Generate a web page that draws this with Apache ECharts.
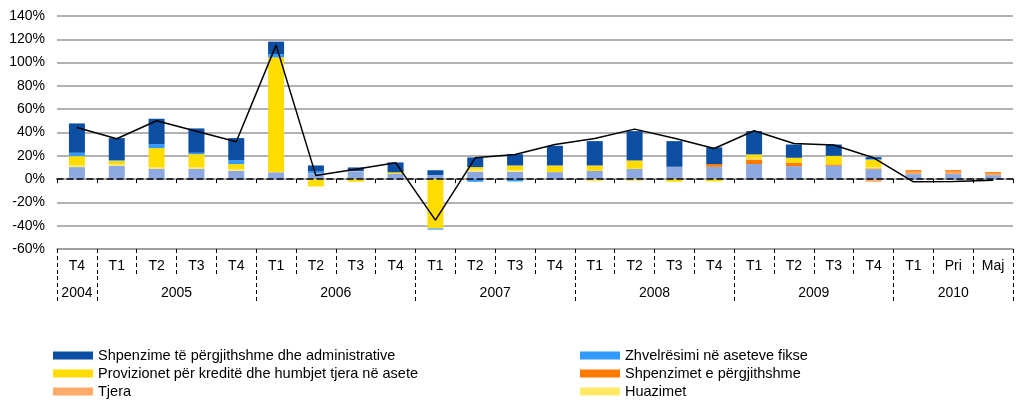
<!DOCTYPE html>
<html lang="sq">
<head>
    <meta charset="UTF-8">
    <title>Shpenzimet</title>
    <script src="https://cdn.jsdelivr.net/npm/echarts@6/dist/echarts.min.js"></script>
</head>
<body style="margin:0">
<div id="chart" style="width: 1016px; height: 402px;"></div>
<script>
    // kategorite (tremujoret) dhe vitet
    var categories = ['T4', 'T1', 'T2', 'T3', 'T4', 'T1', 'T2', 'T3', 'T4', 'T1', 'T2', 'T3', 'T4',
        'T1', 'T2', 'T3', 'T4', 'T1', 'T2', 'T3', 'T4', 'T1', 'Pri', 'Maj'];
    var years = ['2004', '2005', '2006', '2007', '2008', '2009', '2010'];
    var yearBounds = [0, 1, 5, 9, 13, 17, 21, 24];
    var yTicks = [-60, 140, 20];

    // vlerat (%)
    var personeli = [10.3, 11.4, 8.9, 8.9, 7.1, 5.8, 5.0, 6.5, 4.5, 3.5, 6.3, 6.3, 6.0, 7.1, 8.9, 10.6, 10.6, 12.9, 11.1, 11.4, 8.6, 4.3, 4.3, 3.4];
    var tjera = [0, 0, 0, 0, 0, 0, 0, 0, 0, 0, 0, 0, 0, 0, 0, 0, 0, 0, 0, 0, -2.3, 2.0, 2.0, 1.2];
    var shpenzimet = [0, 0, 0, 0, 0, 0, 0, 0, 0, 0, 0, 0, 0, 0, 0, 0, 2.3, 4.0, 2.9, 1.2, 0.6, 1.4, 1.4, 1.4];
    var huazimet = [1.4, 1.5, 1.4, 1.4, 1.5, 0, 0, 0.3, 0, 0, 2.3, 1.4, 0, -2.0, -1.5, 0, 0, 0.8, 0, 0, 1.0, 0, 0, 0];
    var provizionet = [8.0, 2.8, 16.3, 11.1, 4.3, 98.7, -6.3, -2.3, 1.3, -42.4, 1.7, 4.0, 5.7, 4.6, 7.1, -2.3, -2.0, 3.5, 4.3, 7.4, 6.4, 0, 0, 0];
    var zhvleresimi = [2.9, 0.6, 3.4, 1.2, 3.4, 2.9, 1.5, 0, 0, -1.0, -2.3, -2.0, 0, 0, 0, 0, 0, 0, 0, 0, 0.5, 0, 0, 0];
    var administrative = [25.2, 18.9, 21.8, 20.9, 18.9, 10.6, 5.2, 3.2, 8.5, 4.1, 8.3, 9.7, 16.9, 20.9, 25.2, 22.0, 14.3, 20.0, 11.4, 9.7, 1.7, 0, 0, 0];
    var totali = [44.3, 34.6, 50.1, 41, 32, 115, 3, 8.5, 14.1, -35.2, 18.3, 21.2, 29.7, 34.9, 42.9, 35, 26.3, 41.5, 30.6, 29.2, 18.3, -2.3, -2.0, -0.9];

    var FONT = '"Liberation Sans", Arial, sans-serif';

    // mesi i cdo viti per etiketen
    var yearMids = [];
    for (var i = 0; i < years.length; i++) {
        yearMids.push((yearBounds[i] + yearBounds[i + 1]) / 2);
    }

    function bar(name, data, color) {
        return {
            name: name,
            type: 'bar',
            stack: 'a',
            barWidth: 16,
            xAxisIndex: 0,
            itemStyle: {color: color},
            data: data
        };
    }

    var legendBase = {
        top: 348, orient: 'vertical', icon: 'rect', padding: 0,
        itemWidth: 40, itemHeight: 8, itemGap: 3,
        textStyle: {fontFamily: FONT, fontSize: 14.5, color: '#000', lineHeight: 15}
    };

    var myChart = echarts.init(document.getElementById('chart'));
    myChart.setOption({
        backgroundColor: '#ffffff',
        animation: false,
        grid: {left: 57, right: 3, top: 16, bottom: 153},
        legend: [
            Object.assign({left: 53, data: ['Shpenzime të përgjithshme dhe administrative', 'Provizionet për kreditë dhe humbjet tjera në asete', 'Tjera']}, legendBase),
            Object.assign({left: 580, data: ['Zhvelrësimi në aseteve fikse', 'Shpenzimet e përgjithshme', 'Huazimet']}, legendBase)
        ],
        xAxis: [{
            type: 'category',
            data: categories,
            position: 'bottom',
            axisLine: {onZero: false, lineStyle: {color: '#999', width: 1.5}},
            axisTick: {show: true, interval: 0, length: 27, lineStyle: {color: '#000', type: [4, 3]}},
            axisLabel: {interval: 0, margin: 10, fontFamily: FONT, fontSize: 14, color: '#000'},
            splitLine: {show: false}
        }, {
            type: 'value',
            min: 0,
            max: 24,
            position: 'bottom',
            offset: 27,
            axisLine: {show: false, onZero: false},
            axisTick: {show: true, customValues: yearBounds, length: 27, lineStyle: {color: '#000', type: [4, 3]}},
            axisLabel: {
                customValues: yearMids, margin: 10, fontFamily: FONT, fontSize: 14, color: '#000',
                formatter: function (v) {
                    return years[yearMids.indexOf(v)];
                }
            },
            splitLine: {show: false}
        }, {
            type: 'category',
            data: categories,
            position: 'bottom',
            z: 5,
            axisLine: {onZero: true, onZeroAxisIndex: 0, lineStyle: {color: '#000', width: 1.5, type: [6, 4]}},
            axisTick: {show: true, interval: 0, length: 4, lineStyle: {color: '#000'}},
            axisLabel: {show: false},
            splitLine: {show: false}
        }],
        yAxis: {
            type: 'value',
            min: yTicks[0],
            max: yTicks[1],
            interval: yTicks[2],
            axisLine: {show: false},
            axisTick: {show: false},
            axisLabel: {
                formatter: '{value}%', margin: 12,
                fontFamily: FONT, fontSize: 14, color: '#000'
            },
            splitLine: {lineStyle: {color: '#999', width: 1.5}}
        },
        series: [
            bar('Personeli', personeli, '#8EA9E0'),
            bar('Tjera', tjera, '#FFAA66'),
            bar('Shpenzimet e përgjithshme', shpenzimet, '#FF7A00'),
            bar('Huazimet', huazimet, '#FFE866'),
            bar('Provizionet për kreditë dhe humbjet tjera në asete', provizionet, '#FFDD00'),
            bar('Zhvelrësimi në aseteve fikse', zhvleresimi, '#3399FF'),
            bar('Shpenzime të përgjithshme dhe administrative', administrative, '#0B4EA2'),
            {
                name: 'Totali',
                type: 'line',
                xAxisIndex: 0,
                z: 10,
                symbol: 'none',
                lineStyle: {color: '#000', width: 1.5},
                itemStyle: {color: '#000'},
                data: totali
            }
        ]
    });
</script>
</body>
</html>
